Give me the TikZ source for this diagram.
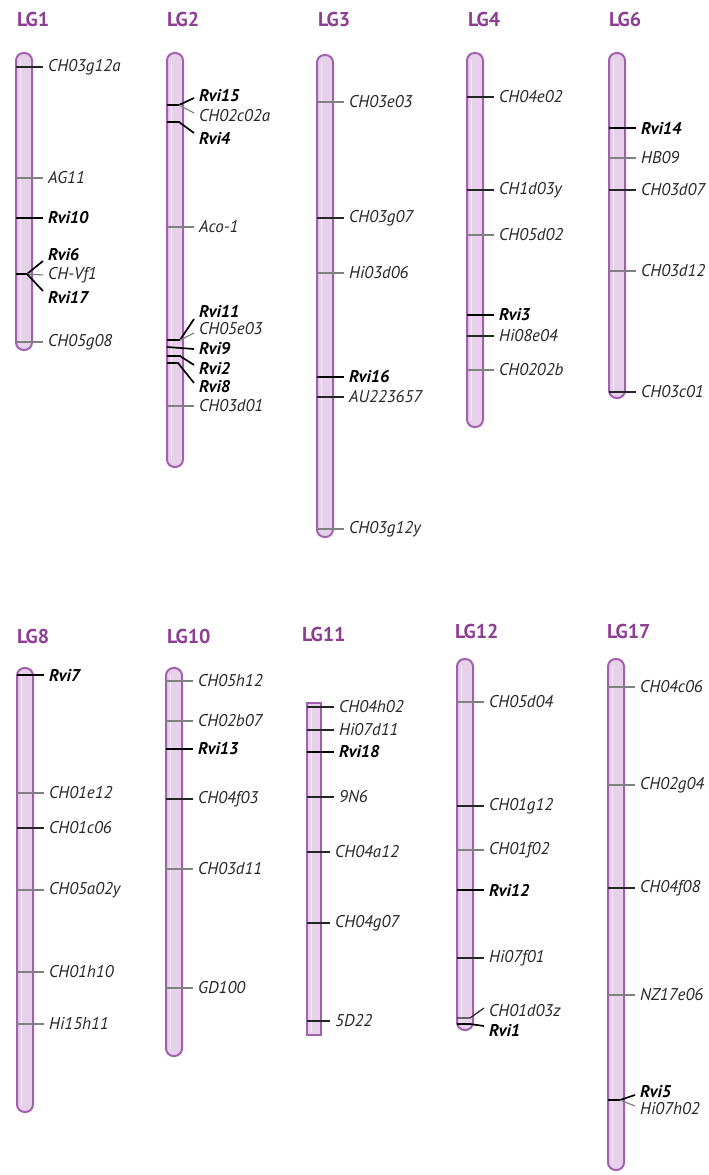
\documentclass[tikz,border=0pt]{standalone}
\usepackage{fontspec}
\setmainfont{PT Sans}
\definecolor{lgpurple}{HTML}{8E3E92}
\definecolor{barfill}{HTML}{E6D0EA}
\definecolor{barline}{HTML}{A261AE}

\begin{document}
\begin{tikzpicture}[x=1pt,y=-1pt,
	lghead/.style={font=\bfseries\fontsize{20}{20}\selectfont, text=lgpurple, anchor=west, inner sep=0pt},
	lab/.style={font=\itshape\fontsize{17}{17}\selectfont, text=black!85, anchor=west, inner xsep=5pt, inner ysep=0pt},
	rlab/.style={lab, text=black, font=\bfseries\itshape\fontsize{17}{17}\selectfont},
	tk/.style={draw=black!50, line width=1.2pt},
	tkd/.style={draw=black!85, line width=1.2pt},
	tkr/.style={draw=black, line width=2.2pt},
	chrom/.style={fill=barfill, draw=barline, line width=2pt, rounded corners=7.5pt},
	shine/.style={draw=white, line width=1pt, opacity=.6}]
		\useasboundingbox (0,0) rectangle (709,1175);
		
		\node[lghead] (lg1) at (17,19) {LG1};
		\node[lghead] (lg2) at (167,19) {LG2};
		\node[lghead] (lg3) at (318,19) {LG3};
		\node[lghead] (lg4) at (468,19) {LG4};
		\node[lghead] (lg6) at (609,19) {LG6};
		\node[lghead] (lg8) at (17,636) {LG8};
		\node[lghead] (lg10) at (167,636) {LG10};
		\node[lghead] (lg11) at (302,634) {LG11};
		\node[lghead] (lg12) at (455,631) {LG12};
		\node[lghead] (lg17) at (607,631) {LG17};
		
		\path[chrom] (16,53) rectangle (32,350);
		\draw[shine] (20,60) -- (20,343);
		\path[chrom] (167,53) rectangle (183,467);
		\draw[shine] (171,60) -- (171,460);
		\path[chrom] (317,55) rectangle (333,537);
		\draw[shine] (321,62) -- (321,530);
		\path[chrom] (467,53) rectangle (483,427);
		\draw[shine] (471,60) -- (471,420);
		\path[chrom] (609,53) rectangle (625,398);
		\draw[shine] (613,60) -- (613,391);
		\path[chrom] (17,668) rectangle (33,1112);
		\draw[shine] (21,675) -- (21,1105);
		\path[chrom] (166,668) rectangle (182,1056);
		\draw[shine] (170,675) -- (170,1049);
		\path[chrom, rounded corners=0pt] (307,703) rectangle (321,1035);
		\draw[shine] (311,706) -- (311,1032);
		\path[chrom] (457,659) rectangle (473,1030);
		\draw[shine] (461,666) -- (461,1023);
		\path[chrom] (608,659) rectangle (624,1170);
		\draw[shine] (612,666) -- (612,1163);
		
		\node[lab] (ch03g12a) at (43,67) {CH03g12a};
		\node[lab] (ag11) at (43,178) {AG11};
		\node[rlab] (rvi10) at (43,218) {Rvi10};
		\node[rlab] (rvi6) at (43,255) {Rvi6};
		\node[lab] (chvf1) at (43,275) {CH-Vf1};
		\node[rlab] (rvi17) at (43,297) {Rvi17};
		\node[lab] (ch05g08) at (43,342) {CH05g08};
		\draw[tkd] (16,67) -- (ch03g12a.west);
		\draw[tk] (16,178) -- (ag11.west);
		\draw[tkr] (16,218) -- (rvi10.west);
		\draw[tkr] (16,274) -- (27,274) coordinate (lg1fork);
		\draw[tkr, line width=1.7pt] (lg1fork) -- ([yshift=-6pt]rvi6.west);
		\draw[tk] (lg1fork) -- (chvf1.west);
		\draw[tkr, line width=1.7pt] (lg1fork) -- ([yshift=6pt]rvi17.west);
		\draw[tk] (16,342) -- (ch05g08.west);
		
		\node[rlab] (rvi15) at (194,96) {Rvi15};
		\node[lab] (ch02c02a) at (194,116) {CH02c02a};
		\node[rlab] (rvi4) at (194,138) {Rvi4};
		\node[lab] (aco1) at (194,227) {Aco-1};
		\node[rlab] (rvi11) at (194,311) {Rvi11};
		\node[lab] (ch05e03) at (194,329) {CH05e03};
		\node[rlab] (rvi9) at (194,349) {Rvi9};
		\node[rlab] (rvi2) at (194,368) {Rvi2};
		\node[rlab] (rvi8) at (194,387) {Rvi8};
		\node[lab] (ch03d01) at (194,406) {CH03d01};
		\draw[tkr] (167,105) -- (179,105) coordinate (lg2forka);
		\draw[tkr, line width=1.7pt] (lg2forka) -- ([yshift=-2pt]rvi15.west);
		\draw[tk] (lg2forka) -- ([yshift=3pt]ch02c02a.west);
		\draw[tkr, line width=1.7pt] (167,122) -- (179,122) -- ([yshift=5pt]rvi4.west);
		\draw[tk] (167,227) -- (aco1.west);
		\draw[tkr] (167,340) -- (180,340) coordinate (lg2forkb);
		\draw[tkr, line width=1.7pt] (lg2forkb) -- ([yshift=-8pt]rvi11.west);
		\draw[tk] (lg2forkb) -- ([yshift=-4pt]ch05e03.west);
		\draw[tkr, line width=1.7pt] (167,347) -- (rvi9.west);
		\draw[tkr, line width=1.7pt] (167,356) -- (180,356) -- ([yshift=3pt]rvi2.west);
		\draw[tkr, line width=1.7pt] (167,363) -- (178,363) -- ([yshift=4pt]rvi8.west);
		\draw[tk] (167,406) -- (ch03d01.west);
		
		\node[lab] (ch03e03) at (344,102) {CH03e03};
		\node[lab] (ch03g07) at (344,218) {CH03g07};
		\node[lab] (hi03d06) at (344,273) {Hi03d06};
		\node[rlab] (rvi16) at (344,377) {Rvi16};
		\node[lab] (au223657) at (344,397) {AU223657};
		\node[lab] (ch03g12y) at (344,529) {CH03g12y};
		\draw[tk] (317,102) -- (ch03e03.west);
		\draw[tkd] (317,218) -- (ch03g07.west);
		\draw[tk] (317,273) -- (hi03d06.west);
		\draw[tkr] (317,377) -- (rvi16.west);
		\draw[tkd] (317,397) -- (au223657.west);
		\draw[tk] (317,529) -- (ch03g12y.west);
		
		\node[lab] (ch04e02) at (494,97) {CH04e02};
		\node[lab] (ch1d03y) at (494,190) {CH1d03y};
		\node[lab] (ch05d02) at (494,235) {CH05d02};
		\node[rlab] (rvi3) at (494,315) {Rvi3};
		\node[lab] (hi08e04) at (494,336) {Hi08e04};
		\node[lab] (ch0202b) at (494,370) {CH0202b};
		\draw[tkd] (467,97) -- (ch04e02.west);
		\draw[tkd] (467,190) -- (ch1d03y.west);
		\draw[tk] (467,235) -- (ch05d02.west);
		\draw[tkr] (467,315) -- (rvi3.west);
		\draw[tkd] (467,336) -- (hi08e04.west);
		\draw[tk] (467,370) -- (ch0202b.west);
		
		\node[rlab] (rvi14) at (636,128) {Rvi14};
		\node[lab] (hb09) at (636,158) {HB09};
		\node[lab] (ch03d07) at (636,190) {CH03d07};
		\node[lab] (ch03d12) at (636,271) {CH03d12};
		\node[lab] (ch03c01) at (636,392) {CH03c01};
		\draw[tkr] (609,128) -- (rvi14.west);
		\draw[tk] (609,158) -- (hb09.west);
		\draw[tkd] (609,190) -- (ch03d07.west);
		\draw[tk] (609,271) -- (ch03d12.west);
		\draw[tkd] (609,392) -- (ch03c01.west);
		
		\node[rlab] (rvi7) at (44,675) {Rvi7};
		\node[lab] (ch01e12) at (44,793) {CH01e12};
		\node[lab] (ch01c06) at (44,828) {CH01c06};
		\node[lab] (ch05a02y) at (44,890) {CH05a02y};
		\node[lab] (ch01h10) at (44,972) {CH01h10};
		\node[lab] (hi15h11) at (44,1024) {Hi15h11};
		\draw[tkr] (17,675) -- (rvi7.west);
		\draw[tk] (17,793) -- (ch01e12.west);
		\draw[tkd] (17,828) -- (ch01c06.west);
		\draw[tk] (17,890) -- (ch05a02y.west);
		\draw[tk] (17,972) -- (ch01h10.west);
		\draw[tk] (17,1024) -- (hi15h11.west);
		
		\node[lab] (ch05h12) at (193,681) {CH05h12};
		\node[lab] (ch02b07) at (193,721) {CH02b07};
		\node[rlab] (rvi13) at (193,749) {Rvi13};
		\node[lab] (ch04f03) at (193,799) {CH04f03};
		\node[lab] (ch03d11) at (193,869) {CH03d11};
		\node[lab] (gd100) at (193,988) {GD100};
		\draw[tk] (166,681) -- (ch05h12.west);
		\draw[tk] (166,721) -- (ch02b07.west);
		\draw[tkr] (166,749) -- (rvi13.west);
		\draw[tkd] (166,799) -- (ch04f03.west);
		\draw[tk] (166,869) -- (ch03d11.west);
		\draw[tk] (166,988) -- (gd100.west);
		
		\node[lab] (ch04h02) at (334,707) {CH04h02};
		\node[lab] (hi07d11) at (334,730) {Hi07d11};
		\node[rlab] (rvi18) at (334,752) {Rvi18};
		\node[lab] (n9n6) at (334,797) {9N6};
		\node[lab] (ch04a12) at (330,852) {CH04a12};
		\node[lab] (ch04g07) at (330,923) {CH04g07};
		\node[lab] (n5d22) at (330,1021) {5D22};
		\draw[tkd] (307,707) -- (ch04h02.west);
		\draw[tkd] (307,730) -- (hi07d11.west);
		\draw[tkr] (307,752) -- (rvi18.west);
		\draw[tkd] (307,797) -- (n9n6.west);
		\draw[tkd] (307,852) -- (ch04a12.west);
		\draw[tkd] (307,923) -- (ch04g07.west);
		\draw[tkd] (307,1021) -- (n5d22.west);
		
		\node[lab] (ch05d04) at (484,702) {CH05d04};
		\node[lab] (ch01g12) at (484,806) {CH01g12};
		\node[lab] (ch01f02) at (484,850) {CH01f02};
		\node[rlab] (rvi12) at (484,890) {Rvi12};
		\node[lab] (hi07f01) at (484,958) {Hi07f01};
		\node[lab] (ch01d03z) at (484,1011) {CH01d03z};
		\node[rlab] (rvi1) at (484,1030) {Rvi1};
		\draw[tk] (457,702) -- (ch05d04.west);
		\draw[tkd] (457,806) -- (ch01g12.west);
		\draw[tk] (457,850) -- (ch01f02.west);
		\draw[tkr] (457,890) -- (rvi12.west);
		\draw[tkd] (457,958) -- (hi07f01.west);
		\draw[tkd] (457,1018) -- (470,1018) -- ([yshift=3pt]ch01d03z.west);
		\draw[tkr, line width=1.7pt] (457,1024) -- (470,1024) -- ([yshift=4pt]rvi1.west);
		
		\node[lab] (ch04c06) at (635,687) {CH04c06};
		\node[lab] (ch02g04) at (635,785) {CH02g04};
		\node[lab] (ch04f08) at (635,888) {CH04f08};
		\node[lab] (nz17e06) at (635,995) {NZ17e06};
		\node[rlab] (rvi5) at (635,1092) {Rvi5};
		\node[lab] (hi07h02) at (635,1109) {Hi07h02};
		\draw[tk] (608,687) -- (ch04c06.west);
		\draw[tk] (608,785) -- (ch02g04.west);
		\draw[tkd] (608,888) -- (ch04f08.west);
		\draw[tk] (608,995) -- (nz17e06.west);
		\draw[tkr] (608,1100) -- (620,1100) coordinate (lg17fork);
		\draw[tkr, line width=1.7pt] (lg17fork) -- ([yshift=-3pt]rvi5.west);
		\draw[tk] (lg17fork) -- ([yshift=3pt]hi07h02.west);
\end{tikzpicture}
\end{document}
